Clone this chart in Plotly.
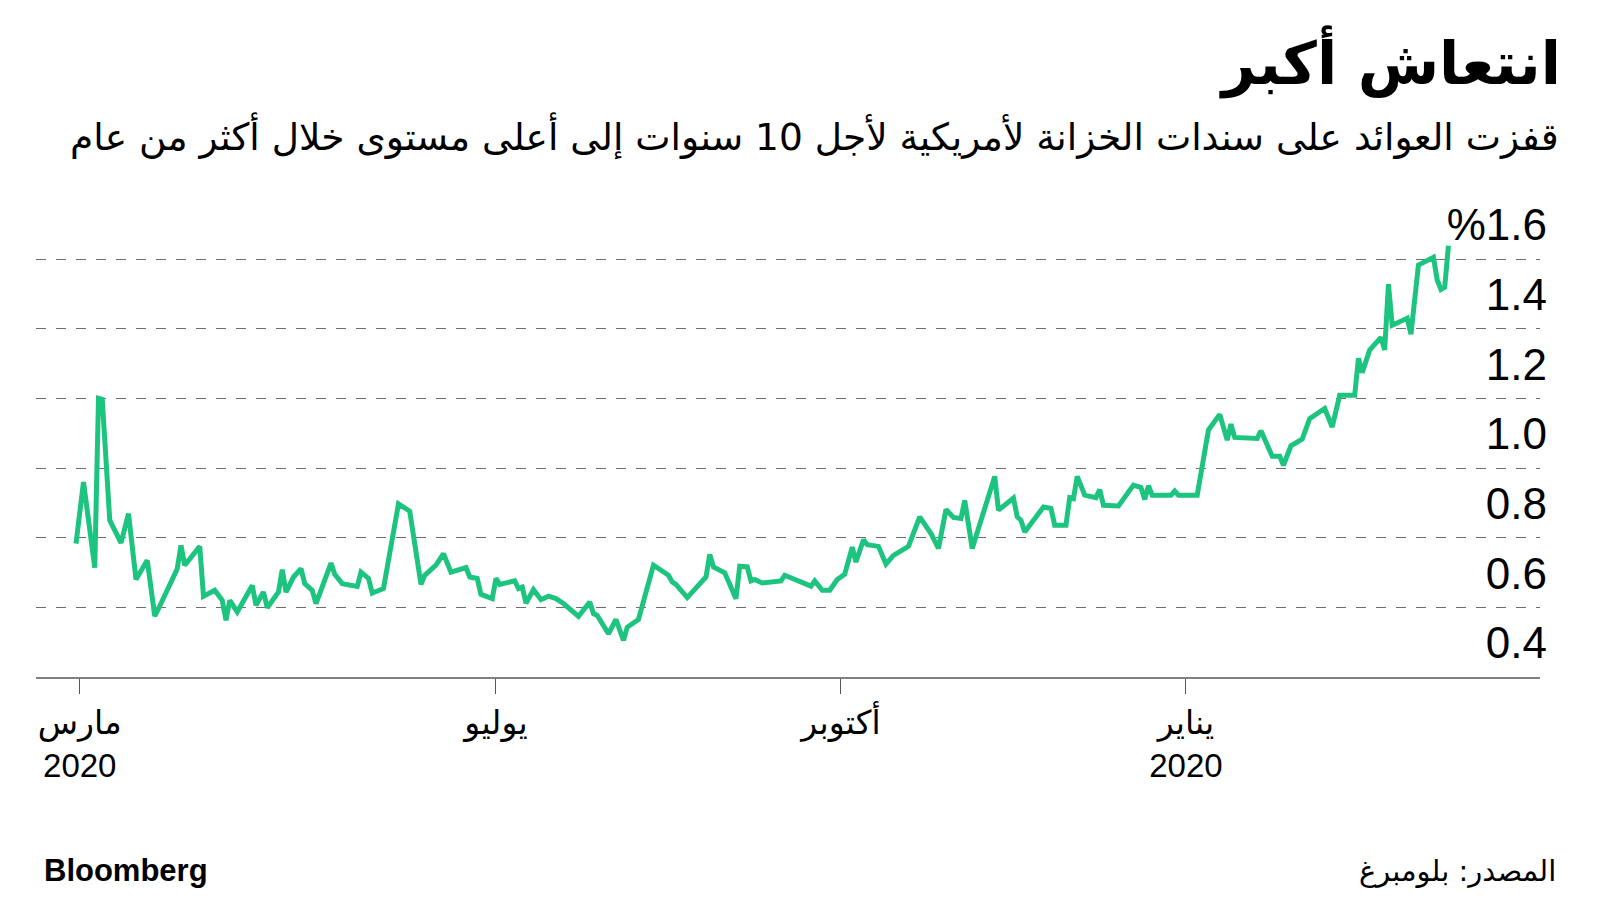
import plotly.graph_objects as go

# ---- data ----
dates = [
    "2020-03-11", "2020-03-13", "2020-03-16", "2020-03-17", "2020-03-18", "2020-03-20",
    "2020-03-23", "2020-03-25", "2020-03-27", "2020-03-30", "2020-04-01", "2020-04-02",
    "2020-04-07", "2020-04-08", "2020-04-09", "2020-04-13", "2020-04-14", "2020-04-17",
    "2020-04-19", "2020-04-20", "2020-04-21", "2020-04-23", "2020-04-27", "2020-04-28",
    "2020-04-30", "2020-05-01", "2020-05-04", "2020-05-05", "2020-05-06", "2020-05-08",
    "2020-05-10", "2020-05-11", "2020-05-13", "2020-05-14", "2020-05-18", "2020-05-19",
    "2020-05-21", "2020-05-25", "2020-05-26", "2020-05-28", "2020-05-29", "2020-06-01",
    "2020-06-05", "2020-06-08", "2020-06-11", "2020-06-12", "2020-06-15", "2020-06-17",
    "2020-06-19", "2020-06-23", "2020-06-24", "2020-06-26", "2020-06-27", "2020-06-30",
    "2020-07-01", "2020-07-02", "2020-07-06", "2020-07-07", "2020-07-08", "2020-07-09",
    "2020-07-11", "2020-07-13", "2020-07-15", "2020-07-17", "2020-07-19", "2020-07-23",
    "2020-07-26", "2020-07-27", "2020-07-28", "2020-07-31", "2020-08-02", "2020-08-04",
    "2020-08-05", "2020-08-08", "2020-08-12", "2020-08-16", "2020-08-17", "2020-08-18",
    "2020-08-21", "2020-08-26", "2020-08-27", "2020-08-28", "2020-08-31", "2020-09-03",
    "2020-09-04", "2020-09-06", "2020-09-07", "2020-09-08", "2020-09-10", "2020-09-15",
    "2020-09-16", "2020-09-23", "2020-09-24", "2020-09-26", "2020-09-28", "2020-09-29",
    "2020-09-30", "2020-10-02", "2020-10-04", "2020-10-05", "2020-10-07", "2020-10-08",
    "2020-10-11", "2020-10-13", "2020-10-15", "2020-10-19", "2020-10-22", "2020-10-25",
    "2020-10-27", "2020-10-29", "2020-10-31", "2020-11-02", "2020-11-03", "2020-11-05",
    "2020-11-11", "2020-11-12", "2020-11-16", "2020-11-17", "2020-11-18", "2020-11-19",
    "2020-11-24", "2020-11-26", "2020-11-27", "2020-11-30", "2020-12-01", "2020-12-02",
    "2020-12-03", "2020-12-05", "2020-12-08", "2020-12-09", "2020-12-10", "2020-12-14",
    "2020-12-18", "2020-12-20", "2020-12-21", "2020-12-22", "2020-12-23", "2020-12-28",
    "2020-12-29", "2020-12-30", "2021-01-04", "2021-01-07", "2021-01-10", "2021-01-12",
    "2021-01-13", "2021-01-14", "2021-01-20", "2021-01-21", "2021-01-24", "2021-01-26",
    "2021-01-27", "2021-01-29", "2021-02-01", "2021-02-03", "2021-02-07", "2021-02-09",
    "2021-02-11", "2021-02-15", "2021-02-16", "2021-02-17", "2021-02-19", "2021-02-22",
    "2021-02-23", "2021-02-24", "2021-02-25", "2021-03-01", "2021-03-02", "2021-03-04",
    "2021-03-08", "2021-03-09", "2021-03-10", "2021-03-11", "2021-03-12",
]

yields = [
    0.783, 0.960, 0.714, 1.200, 1.197, 0.850,
    0.785, 0.869, 0.680, 0.735, 0.575, 0.596,
    0.711, 0.778, 0.721, 0.775, 0.632, 0.649,
    0.620, 0.563, 0.620, 0.587, 0.663, 0.606,
    0.644, 0.599, 0.644, 0.708, 0.644, 0.687,
    0.711, 0.668, 0.649, 0.611, 0.727, 0.695,
    0.668, 0.660, 0.701, 0.683, 0.641, 0.654,
    0.897, 0.876, 0.666, 0.692, 0.721, 0.754,
    0.701, 0.714, 0.687, 0.683, 0.637, 0.625,
    0.683, 0.666, 0.676, 0.654, 0.658, 0.612,
    0.651, 0.622, 0.632, 0.625, 0.611, 0.574,
    0.615, 0.582, 0.577, 0.524, 0.565, 0.505,
    0.543, 0.565, 0.721, 0.692, 0.673, 0.666,
    0.628, 0.687, 0.752, 0.716, 0.699, 0.625,
    0.718, 0.716, 0.676, 0.680, 0.670, 0.676,
    0.692, 0.661, 0.676, 0.649, 0.649, 0.663,
    0.680, 0.695, 0.773, 0.730, 0.794, 0.780,
    0.775, 0.724, 0.749, 0.775, 0.860, 0.812,
    0.769, 0.881, 0.858, 0.855, 0.907, 0.769,
    0.976, 0.879, 0.914, 0.860, 0.850, 0.816,
    0.888, 0.884, 0.836, 0.836, 0.915, 0.912,
    0.976, 0.922, 0.915, 0.938, 0.893, 0.891,
    0.951, 0.944, 0.910, 0.949, 0.922, 0.922,
    0.934, 0.922, 0.922, 1.109, 1.154, 1.080,
    1.126, 1.088, 1.085, 1.107, 1.034, 1.034,
    1.008, 1.064, 1.083, 1.142, 1.171, 1.118,
    1.209, 1.209, 1.315, 1.274, 1.339, 1.375,
    1.339, 1.528, 1.410, 1.430, 1.384, 1.583,
    1.605, 1.540, 1.513, 1.519, 1.638,
]

x_tick_dates = ["2020-03-12", "2020-07-01", "2020-10-01", "2021-01-01"]
x_tick_labels = ["مارس<br>2020", "يوليو", "أكتوبر", "يناير<br>2020"]

y_tick_vals = [0.4, 0.6, 0.8, 1.0, 1.2, 1.4, 1.6]
y_tick_labels = ["0.4", "0.6", "0.8", "1.0", "1.2", "1.4", "%1.6"]

title_text = "انتعاش أكبر"
subtitle_text = "قفزت العوائد على سندات الخزانة لأمريكية لأجل 10 سنوات إلى أعلى مستوى خلال أكثر من عام"
source_text = "المصدر: بلومبرغ"
brand_text = "Bloomberg"

LINE_GREEN = "#1cc47f"
AR_FONT = "DejaVu Sans, Noto Sans, sans-serif"
NUM_FONT = "Liberation Sans, Arial, DejaVu Sans, sans-serif"

# plot area geometry: y = 0.4 sits at 676.6 px, 348 px per percentage point
Y_MIN, Y_MAX = 0.4, 1.85
PX_PER_UNIT = 348.0
BOTTOM = 223.4
PLOT_H = (Y_MAX - Y_MIN) * PX_PER_UNIT
TOP = 900 - BOTTOM - PLOT_H
AXIS_Y = 900 - BOTTOM


def py(pix):
    return (AXIS_Y - pix) / PLOT_H


def px(pix):
    return (pix - 36) / 1504


fig = go.Figure()
fig.add_trace(go.Scatter(
    x=dates, y=yields, mode="lines",
    line=dict(color=LINE_GREEN, width=5),
    hoverinfo="x+y", showlegend=False,
))

fig.update_layout(
    width=1600, height=900,
    paper_bgcolor="white", plot_bgcolor="white",
    margin=dict(l=36, r=60, t=TOP, b=BOTTOM),
    title=dict(
        text="<b>" + title_text + "</b>",
        x=1561 / 1600, xanchor="right", xref="container",
        y=1 - 63 / 900, yanchor="middle", yref="container",
        font=dict(family=AR_FONT, size=59, color="black"),
    ),
    xaxis=dict(
        type="date",
        range=["2020-02-29 08:00", "2021-04-05 10:00"],
        tickmode="array", tickvals=x_tick_dates, ticktext=x_tick_labels,
        ticks="outside", ticklen=15, tickwidth=1, tickcolor="#555555",
        showline=True, linecolor="#808080", linewidth=2,
        showgrid=False, zeroline=False,
        tickfont=dict(family=NUM_FONT, size=33, color="black"),
    ),
    yaxis=dict(
        range=[Y_MIN, Y_MAX], side="right",
        tickmode="array", tickvals=y_tick_vals, ticktext=y_tick_labels,
        ticklabelposition="inside", ticklabelshift=-34, ticklabelstandoff=-10,
        ticks="", showline=False, zeroline=False,
        showgrid=True, gridcolor="#6e6e6e", gridwidth=1, griddash="10px,10px",
        tickfont=dict(family=NUM_FONT, size=44, color="black"),
    ),
    annotations=[
        dict(text=subtitle_text, xref="paper", yref="paper",
             x=px(1561), y=py(136),
             xanchor="right", yanchor="middle", showarrow=False,
             font=dict(family=AR_FONT, size=37.5, color="black")),
        dict(text="<b>" + brand_text + "</b>", xref="paper", yref="paper",
             x=px(42), y=py(870),
             xanchor="left", yanchor="middle", showarrow=False,
             font=dict(family=NUM_FONT, size=31, color="black")),
        dict(text=source_text, xref="paper", yref="paper",
             x=px(1558), y=py(870),
             xanchor="right", yanchor="middle", showarrow=False,
             font=dict(family=AR_FONT, size=29, color="black")),
    ],
)

fig.write_html("out.html")
